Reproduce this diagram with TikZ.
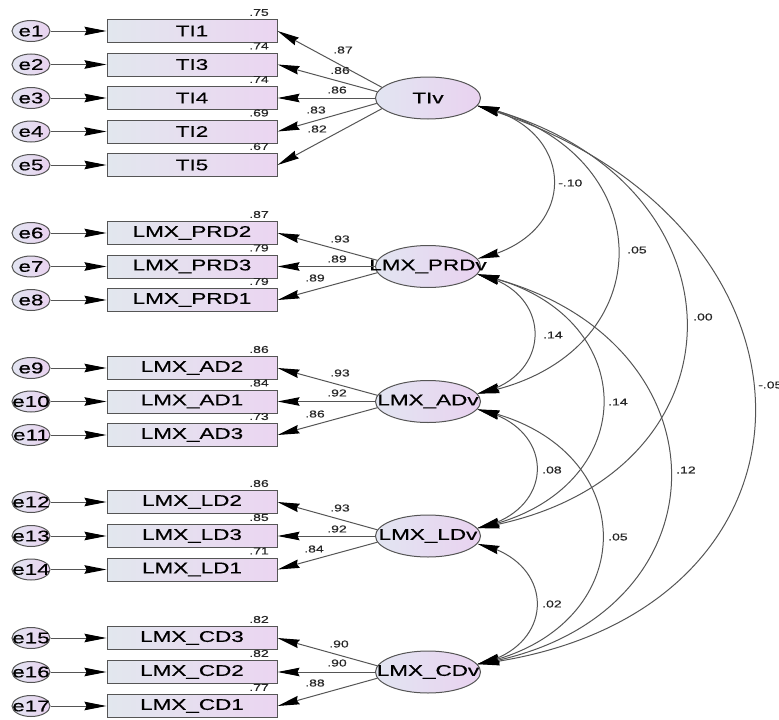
\documentclass[tikz,border=0pt]{standalone}
\usepackage{fontspec}
\newfontfamily\bigfnt{Liberation Sans}[FakeStretch=1.45, FakeBold=0.4]
\newfontfamily\smallfnt{Liberation Sans}[FakeStretch=1.4, FakeBold=0.3]
\usetikzlibrary{arrows.meta,bending,shapes.geometric}

\definecolor{edgegray}{HTML}{555555}
\definecolor{linegray}{HTML}{555555}
\definecolor{boxL}{HTML}{E2E7EE}
\definecolor{boxR}{HTML}{EBD5F1}
\definecolor{ellL}{HTML}{E2E5F1}
\definecolor{ellR}{HTML}{E9D2F0}

\tikzset{
  obs/.style={draw=edgegray, line width=1pt, minimum width=170pt, minimum height=23pt,
    inner sep=0pt, left color=boxL, right color=boxR, text=black,
    font=\bigfnt\fontsize{15.5}{16}\selectfont},
  err/.style={ellipse, draw=edgegray, line width=1pt, minimum width=38pt, minimum height=21pt,
    inner sep=0pt, left color=ellL, right color=ellR, text=black,
    font=\bigfnt\fontsize{15.5}{16}\selectfont},
  lat/.style={ellipse, draw=edgegray, line width=1pt, minimum width=105pt, minimum height=42pt,
    inner sep=0pt, left color=ellL, right color=ellR, text=black,
    font=\bigfnt\fontsize{15.5}{16}\selectfont},
  lbl/.style={inner sep=0pt, text=black!85, font=\smallfnt\fontsize{10}{11}\selectfont},
  path/.style={draw=linegray, line width=1pt,
    -{Stealth[length=22pt, width=8.5pt, inset=2pt, color=black, flex]}},
  cov/.style={draw=linegray, line width=1pt,
    {Stealth[length=22pt, width=8.5pt, inset=2pt, color=black, flex]}-{Stealth[length=22pt, width=8.5pt, inset=2pt, color=black, flex]}},
}

\begin{document}
\begin{tikzpicture}[x=1pt, y=-1pt]
\useasboundingbox (0,0) rectangle (779,720);
\clip (0,0) rectangle (779,720);

% latent variables
\node[lat] (TIv)   at (428,98)    {\makebox[0pt]{TIv}};
\node[lat] (PRDv)  at (428,266.5) {\makebox[0pt]{LMX\_PRDv}};
\node[lat] (ADv)   at (428,401.5) {\makebox[0pt]{LMX\_ADv}};
\node[lat] (LDv)   at (428,536)   {\makebox[0pt]{LMX\_LDv}};
\node[lat] (CDv)   at (428,672)   {\makebox[0pt]{LMX\_CDv}};

% error terms, indicators and squared multiple correlations
\foreach \i/\y/\t/\v in {
  1/31/TI1/.75, 2/64.5/TI3/.74, 3/98/TI4/.74, 4/131.5/TI2/.69, 5/165/TI5/.67,
  6/233/LMX\_PRD2/.87, 7/266.5/LMX\_PRD3/.79, 8/300/LMX\_PRD1/.79,
  9/368/LMX\_AD2/.86, 10/401.5/LMX\_AD1/.84, 11/435/LMX\_AD3/.73,
  12/502/LMX\_LD2/.86, 13/536/LMX\_LD3/.85, 14/569.5/LMX\_LD1/.71,
  15/638/LMX\_CD3/.82, 16/672/LMX\_CD2/.82, 17/706/LMX\_CD1/.77} {
  \node[err] (e\i) at (31,\y) {\makebox[0pt]{e\i}};
  \node[obs] (o\i) at (192,\y) {\t};
  \node[lbl] (r\i) at (259,\y-18.5) {\v};
  \draw[path] (e\i) -- (o\i);
}

% factor loadings
\foreach \lat/\i/\a/\lx/\ly/\l in {
  TIv/1/167/343/50/.87, TIv/2/173.5/340/70.5/.86, TIv/3/180/337/90/.86,
  TIv/4/186.5/316/110/.83, TIv/5/193/317/129/.82,
  PRDv/6/173/340/239/.93, PRDv/7/180/337/259/.89, PRDv/8/187/315/278/.89,
  ADv/9/173/340/373/.93, ADv/10/180/337/393/.92, ADv/11/187/315/414/.86,
  LDv/12/173/340/508/.93, LDv/13/180/337/529/.92, LDv/14/187/314/549/.84,
  CDv/15/173/339/644/.90, CDv/16/180/337/663/.90, CDv/17/187/315/683/.88} {
  \draw[path] (\lat.\a) -- (o\i.east);
  \node[lbl] (w\i) at (\lx,\ly) {\l};
}

% covariances between the latent variables
% \k: horizontal reach of the control points, \p/\q: their vertical offsets (fraction of \k)
\foreach \a/\b/\k/\p/\q/\lx/\ly/\c [count=\j] in {
  TIv/PRDv/103/0.2/0.2/558/183/-.10, TIv/ADv/189/0.22/0.18/627/250/.05,
  TIv/LDv/280/0.24/0.16/693/317/.00, TIv/CDv/371/0.3/0.12/758/385/-.05,
  PRDv/ADv/77/0.2/0.2/543/335/.14, PRDv/LDv/169/0.2/0.2/608/402/.14,
  PRDv/CDv/259/0.22/0.16/676/470/.12, ADv/LDv/80/0.2/0.2/542/470/.08,
  ADv/CDv/168/0.2/0.2/608/537/.05, LDv/CDv/80/0.2/0.2/542/604/.02} {
  \draw[cov] (\a.-9) .. controls +(\k,\p*\k) and +(\k,-\q*\k) .. (\b.9);
  \node[lbl, anchor=west] (c\j) at (\lx,\ly) {\c};
}
\end{tikzpicture}
\end{document}
